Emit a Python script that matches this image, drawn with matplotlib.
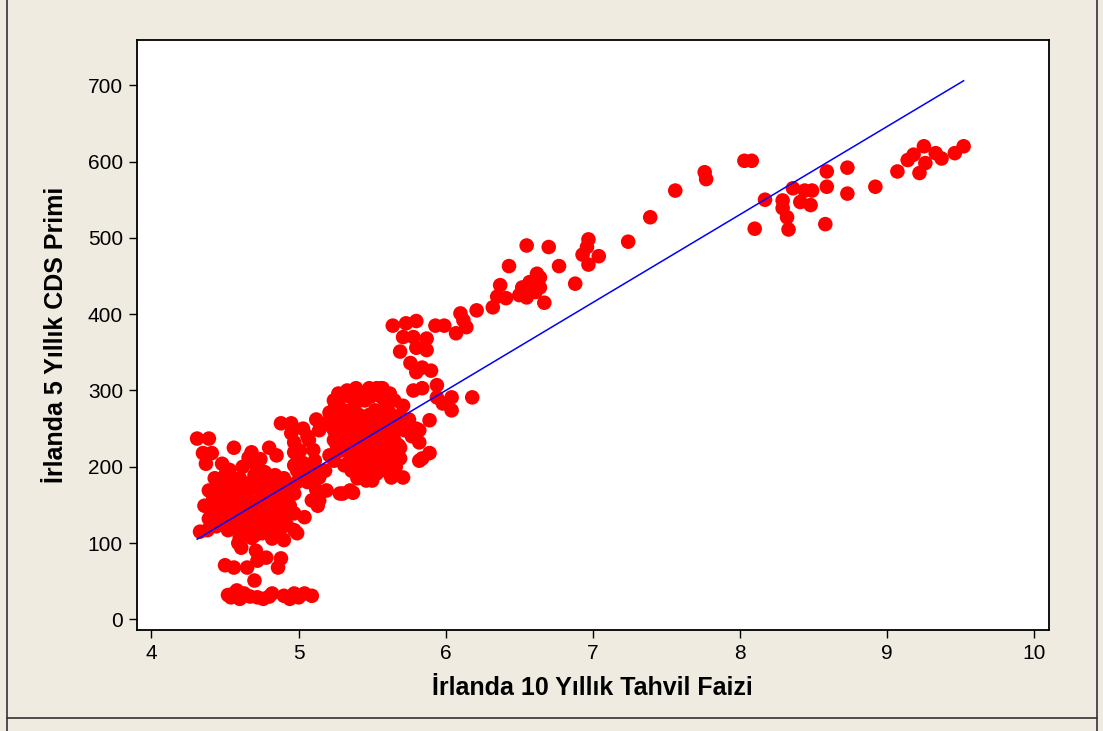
import numpy as np
import matplotlib
matplotlib.use("Agg")
from matplotlib import pyplot as plt
from matplotlib.lines import Line2D

# 散布図の値 (図から読み取った推定値)
left_x = [4.31, 4.39, 4.35, 4.41, 4.37, 4.48, 4.56, 4.68, 4.80, 4.85, 4.97, 4.95, 4.88, 4.70, 4.77,
          4.45, 4.53, 4.48, 4.45, 4.38, 4.45, 4.52, 4.59, 4.61, 4.68, 4.75, 4.82, 4.90, 4.99, 5.04,
          5.13, 5.09, 4.97, 4.84, 4.72, 4.63, 4.56, 4.77, 4.86, 4.68, 4.82, 4.90, 4.99, 4.97, 4.33]
left_y = [237, 237, 218, 218, 204, 204, 225, 219, 225, 215, 219, 244, 257, 204, 193,
          180, 182, 165, 147, 117, 130, 121, 100, 94, 107, 113, 106, 104, 113, 134,
          149, 156, 139, 130, 130, 147, 156, 152, 156, 173, 173, 182, 180, 165, 115]

low_x = [4.50, 4.56, 4.65, 4.72, 4.78, 4.88, 4.86, 4.71, 4.70, 4.56, 4.54, 4.63, 4.72, 4.82,
         4.90, 4.97, 5.04, 5.09, 4.60, 4.67, 4.76, 4.80, 4.94, 5.00, 4.58, 4.52]
low_y = [71, 68, 68, 77, 81, 80, 68, 90, 51, 34, 29, 34, 29, 34,
         31, 34, 34, 31, 27, 30, 27, 30, 27, 29, 38, 32]

blob_x = [4.43, 4.50, 4.60, 4.70, 4.77, 4.84, 4.90,
          4.39, 4.46, 4.54, 4.63, 4.72, 4.79, 4.87, 4.95,
          4.36, 4.45, 4.53, 4.61, 4.70, 4.77, 4.86, 4.94,
          4.39, 4.48, 4.56, 4.65, 4.73, 4.82, 4.90,
          4.52, 4.60, 4.68, 4.77, 4.87, 4.97,
          4.95, 5.03, 4.97, 5.06, 5.10, 5.03, 5.10, 5.06, 5.12, 4.99,
          4.47, 4.56, 4.65, 4.74, 4.83, 4.92, 4.42, 4.50, 4.58, 4.66, 4.75, 4.83, 4.91,
          4.42, 4.50, 4.58, 4.66, 4.74, 4.82, 4.91, 4.44, 4.56, 4.64, 4.72, 4.81, 4.92,
          4.60, 4.70, 4.53, 4.62, 4.74, 4.66]
blob_y = [185, 189, 185, 189, 182, 189, 185,
          169, 166, 172, 169, 172, 166, 169, 169,
          149, 152, 147, 149, 149, 145, 152, 149,
          132, 130, 135, 130, 132, 130, 134,
          117, 119, 114, 117, 113, 117,
          257, 250, 232, 240, 222, 205, 195, 180, 170, 195,
          178, 178, 178, 178, 178, 176, 158, 158, 160, 158, 160, 160, 158,
          140, 140, 142, 140, 140, 142, 140, 122, 125, 122, 123, 121, 124,
          108, 110, 196, 200, 210, 212]

mid_x = [5.39, 5.48, 5.56, 5.28, 5.21, 5.82, 5.82, 5.69, 5.69, 5.84, 5.63, 5.44, 5.30, 5.37,
         5.55, 5.14, 5.19, 5.14,
         5.24, 5.31, 5.38, 5.45, 5.52, 5.59, 5.65,
         5.21, 5.28, 5.35, 5.41, 5.48, 5.55, 5.62, 5.69,
         5.24, 5.31, 5.38, 5.45, 5.52, 5.59, 5.65, 5.72,
         5.21, 5.28, 5.35, 5.41, 5.48, 5.55, 5.62,
         5.14, 5.07, 5.01, 5.11, 5.18, 5.31, 5.41, 5.52, 5.04, 4.97,
         5.33, 5.42, 5.25, 5.17, 5.12, 5.52, 5.60, 5.68, 5.75, 5.77, 5.60, 5.50, 5.40,
         5.27, 5.35, 5.42, 5.49, 5.56, 5.62, 5.27, 5.34, 5.41, 5.48, 5.55, 5.62,
         5.24, 5.31, 5.38, 5.45, 5.52, 5.59, 5.66, 5.26, 5.33, 5.40, 5.47, 5.54, 5.61, 5.68,
         5.24, 5.37, 5.44, 5.51, 5.58, 5.66, 5.36, 5.47]
mid_y = [303, 303, 303, 290, 271, 248, 232, 225, 211, 211, 186, 186, 165, 166,
         195, 186, 169, 156,
         287, 274, 280, 287, 274, 280, 287,
         261, 254, 261, 254, 261, 254, 261, 267,
         235, 241, 235, 241, 235, 241, 235, 248,
         215, 221, 215, 221, 215, 221, 215,
         248, 235, 221, 208, 195, 202, 202, 205, 195, 202,
         300, 297, 280, 255, 262, 297, 275, 258, 262, 240, 205, 182, 185,
         296, 292, 292, 292, 292, 296, 268, 267, 268, 268, 266, 270,
         248, 248, 247, 248, 246, 248, 248, 228, 228, 228, 228, 228, 228, 228,
         208, 208, 210, 210, 210, 200, 195, 196]

edge_x = [5.53, 5.57, 5.78, 5.84, 5.94, 5.94, 6.04, 6.18, 5.98, 5.59, 5.71, 6.04, 5.89, 5.80,
          5.89, 5.82, 5.71, 5.62, 5.53, 5.46, 5.35, 5.28]
edge_y = [303, 303, 300, 303, 307, 291, 291, 291, 283, 283, 280, 274, 261, 250,
          218, 208, 186, 191, 191, 182, 169, 165]

upper_x = [5.80, 5.73, 5.64, 5.71, 5.78, 5.87, 5.69, 5.80, 5.87, 5.76, 5.84, 5.90, 5.80,
           5.93, 5.99, 6.07, 6.12, 6.14, 6.10, 6.21]
upper_y = [391, 388, 385, 370, 370, 368, 351, 356, 353, 336, 330, 326, 324,
           385, 385, 375, 392, 383, 401, 405]

high_x = [7.56, 7.39, 7.24, 6.97, 6.96, 6.93, 7.04, 6.97, 6.88, 6.77, 6.70, 6.55, 6.43, 6.37,
          6.35, 6.41, 6.32, 6.62, 6.64, 6.57, 6.52, 6.55, 6.64, 6.67, 6.50, 6.61]
high_y = [562, 527, 495, 498, 488, 478, 476, 465, 440, 463, 488, 490, 463, 438,
          423, 421, 409, 453, 448, 442, 435, 422, 435, 415, 425, 429]

right_x = [9.52, 9.46, 9.37, 9.33, 9.26, 9.25, 9.22, 9.18, 9.14, 9.07, 8.92, 8.73, 8.73, 8.59,
           8.59, 8.58, 8.49, 8.48, 8.44, 8.41, 8.36, 8.33, 8.32, 8.29, 8.29, 8.17, 8.10, 8.08,
           8.03, 7.77, 7.76]
right_y = [620, 611, 604, 611, 598, 620, 585, 609, 602, 587, 567, 592, 558, 587,
           567, 518, 562, 543, 562, 547, 565, 511, 527, 539, 549, 550, 512, 601,
           601, 577, 586]

# 回帰直線 (傾き, 切片)
fit_coef = [115.3, -391.8]

x = np.array(left_x + low_x + blob_x + mid_x + edge_x + upper_x + high_x + right_x)
y = np.array(left_y + low_y + blob_y + mid_y + edge_y + upper_y + high_y + right_y)

bg = '#EFEBE1'
fig = plt.figure(figsize=(11.03, 7.31), dpi=100, facecolor=bg)
ax = fig.add_axes([0.124, 0.138, 0.827, 0.807])

ax.scatter(x, y, s=110, color='#FF0000', edgecolors='none', zorder=3)
xl = np.array([x.min(), x.max()])
ax.plot(xl, np.polyval(fit_coef, xl), color='#0000FF', lw=1.1, zorder=4)

ax.set_xlim(3.9, 10.1)
ax.set_ylim(-14, 759)
ax.set_xticks(range(4, 11))
ax.set_yticks(range(0, 701, 100))

fam = ['Liberation Sans', 'DejaVu Sans']
for lab in ax.get_xticklabels() + ax.get_yticklabels():
    lab.set_family(fam)
    lab.set_fontsize(15)
ax.tick_params(direction='out', length=6, width=1, pad=4)
for side in ['top', 'right', 'left', 'bottom']:
    ax.spines[side].set_linewidth(1.3)

ax.set_xlabel('İrlanda 10 Yıllık Tahvil Faizi', family=fam, fontsize=18, fontweight='bold', labelpad=9)
ax.set_ylabel('İrlanda 5 Yıllık CDS Primi', family=fam, fontsize=18, fontweight='bold', labelpad=14)

# 外枠
for (x0, y0, x1, y1) in [(0.0065, 0.0, 0.0065, 1.0), (0.9945, 0.0, 0.9945, 1.0), (0.0065, 0.018, 0.9945, 0.018)]:
    fig.add_artist(Line2D([x0, x1], [y0, y1], transform=fig.transFigure, color='#333333', lw=1.2))

fig.savefig('out.png', dpi=100, facecolor=bg)
